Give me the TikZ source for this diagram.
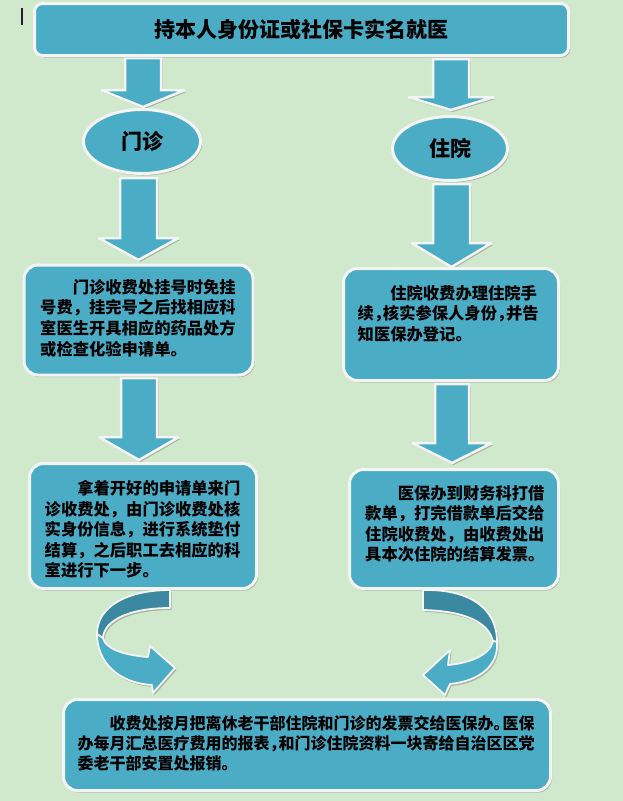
\documentclass[tikz,border=0pt]{standalone}
\usepackage{fontspec}
\newfontfamily\cjk{Noto Sans CJK SC}
\usetikzlibrary{shadows,shapes.geometric}
\definecolor{bgc}{HTML}{D0E8CC}
\definecolor{fillc}{HTML}{4BACC6}
\definecolor{darkc}{HTML}{3A89A0}
\definecolor{rim}{HTML}{F4F4F4}
\definecolor{cursorc}{HTML}{2B1B33}
\newcommand\hcomma{\makebox[0.55em][l]{，}}
\newcommand\hstop{\makebox[0.55em][l]{。}}
\newcommand\blockarr[6]{%
  \draw[barrow] (#1-#5,#2) -- (#1+#5,#2) -- (#1+#5,#3) -- (#1+#6,#3) -- (#1,#4)
     -- (#1-#6,#3) -- (#1-#5,#3) -- cycle;}
\tikzset{
  shade/.style={drop shadow={shadow xshift=1.5pt, shadow yshift=-2pt, opacity=0.3, fill=black!75}},
  box/.style={draw=rim, line width=3pt, fill=fillc, rounded corners=14pt, shade, inner sep=0pt},
  topbox/.style={box, rounded corners=8pt},
  oval/.style={ellipse, draw=rim, line width=3pt, fill=fillc, shade, inner sep=0pt},
  barrow/.style={draw=rim, line width=2.5pt, fill=fillc, line join=miter, miter limit=3, shade},
  band/.style={draw=rim, line width=1.8pt, line join=round, shade},
  bigtext/.style={font={\cjk\bfseries\fontsize{21}{25}\selectfont}, text=black},
  bodytext/.style={font={\cjk\bfseries\fontsize{16.3}{20.6}\selectfont}, text=black,
     align=left, anchor=north west, inner sep=0pt},
}
\begin{document}
\begin{tikzpicture}[x=1pt,y=-1pt]
\fill[bgc] (0,0) rectangle (623,801);
\useasboundingbox (0,0) rectangle (623,801);

% cursor mark
\draw[cursorc, line width=1.5pt] (22,8) -- (22,25);

% block arrows
\blockarr{143}{58}{90}{107}{18}{42}
\blockarr{451}{59}{97}{110}{18}{43}
\blockarr{138.5}{178}{238}{260}{18.5}{40}
\blockarr{451.5}{184}{243}{267}{18.5}{40}
\blockarr{139}{378}{437}{460}{18}{40}
\blockarr{452}{384}{443}{463}{17}{40}

% top box
\node[topbox, minimum width=534pt, minimum height=52pt, bigtext] (top) at (301.5,29.5)
  {持本人身份证或社保卡实名就医};

% ellipses
\node[oval, minimum width=117pt, minimum height=64pt, bigtext] (mz) at (142,141.5) {门诊};
\node[oval, minimum width=115pt, minimum height=64pt, bigtext] (zy) at (450,148.5) {住院};

% boxes
\node[box, minimum width=229pt, minimum height=110pt] (b2) at (138.5,320) {};
\node[box, minimum width=227pt, minimum height=125pt] (b3) at (143,526) {};
\node[box, minimum width=215pt, minimum height=112pt] (r1) at (451,324.5) {};
\node[box, minimum width=209pt, minimum height=119pt] (r2) at (454,529) {};
\node[box, minimum width=487pt, minimum height=91pt] (bt) at (307,745) {};

% curved arrows
\draw[band, fill=darkc] (170,590) .. controls (128,590) and (97,606) .. (97,634)
   -- (103,638) .. controls (104,620) and (130,608) .. (170,608) -- cycle;
\draw[band, fill=fillc] (97,634) .. controls (97,662) and (118,683) .. (152,685)
   -- (153,693) -- (175,668) -- (150,646) -- (148,657)
   .. controls (122,655) and (105,648) .. (103,638) -- cycle;

\draw[band, fill=darkc] (423,590) .. controls (465,589) and (497,605) .. (497,642)
   -- (493,641) .. controls (488,622) and (465,611) .. (423,610) -- cycle;
\draw[band, fill=fillc] (497,642) .. controls (499,665) and (480,681) .. (450,684)
   -- (445,695) -- (423,675) -- (450,650) -- (448,665)
   .. controls (470,663) and (490,655) .. (493,641) -- cycle;

% texts
\node[bodytext] (t2) at (40,279) {\hspace*{2em}门诊收费处挂号时免挂\\号费，挂完号之后找相应科\\室医生开具相应的药品处方\\或检查化验申请单。};
\node[bodytext] (t3) at (44.5,480) {\hspace*{2em}拿着开好的申请单来门\\诊收费处，由门诊收费处核\\实身份信息，进行系统垫付\\结算，之后职工去相应的科\\室进行下一步。};
\node[bodytext] (tr1) at (357.5,285) {\hspace*{2em}住院收费办理住院手\\续\hcomma 核实参保人身份\hcomma 并告\\知医保办登记。};
\node[bodytext] (tr2) at (365,485) {\hspace*{2em}医保办到财务科打借\\款单，打完借款单后交给\\住院收费处，由收费处出\\具本次住院的结算发票。};
\node[bodytext, font={\cjk\bfseries\fontsize{16}{20}\selectfont}] (tb) at (77.5,715) {\hspace*{2em}收费处按月把离休老干部住院和门诊的发票交给医保办\hstop 医保\\办每月汇总医疗费用的报表\hcomma 和门诊住院资料一块寄给自治区区党\\委老干部安置处报销。};
\end{tikzpicture}
\end{document}
